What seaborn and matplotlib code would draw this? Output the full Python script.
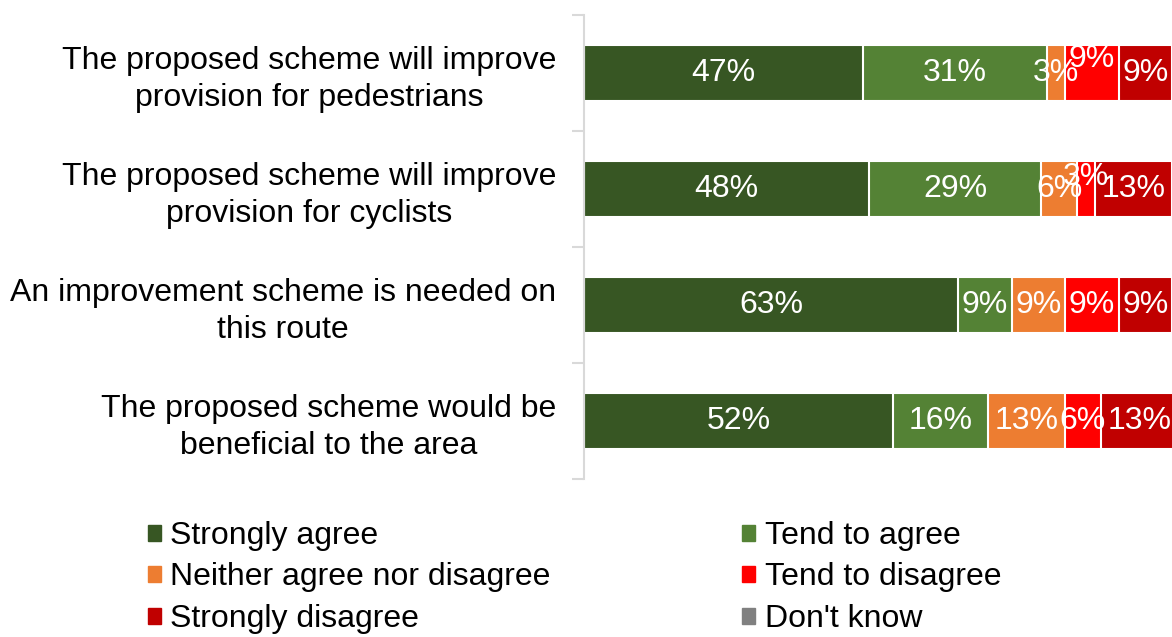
import numpy as np
import pandas as pd
import matplotlib.pyplot as plt
import seaborn as sns
from matplotlib.patches import Patch

# datos
categorias = [
    'The proposed scheme will improve\nprovision for pedestrians',
    'The proposed scheme will improve\nprovision for cyclists',
    'An improvement scheme is needed on\nthis route',
    'The proposed scheme would be\nbeneficial to the area',
]
respuestas = ['Strongly agree', 'Tend to agree', 'Neither agree nor disagree',
              'Tend to disagree', 'Strongly disagree', "Don't know"]
strongly_agree = [47, 48, 63, 52]
tend_agree = [31, 29, 9, 16]
neither = [3, 6, 9, 13]
tend_disagree = [9, 3, 9, 6]
strongly_disagree = [9, 13, 9, 13]
dont_know = [0, 0, 0, 0]

colores = ['#375623', '#548235', '#ED7D31', '#FF0000', '#C00000', '#808080']

series = [strongly_agree, tend_agree, neither, tend_disagree, strongly_disagree, dont_know]
df = pd.DataFrame(dict(zip(respuestas, series)))
df['categoria'] = categorias
acum = df[respuestas].cumsum(axis=1)

sns.set_theme(style='white')
plt.rcParams['font.family'] = ['Liberation Sans', 'DejaVu Sans']
plt.rcParams['text.color'] = 'black'
fs = 23

fig = plt.figure(figsize=(11.72, 6.37), dpi=100)
ax = fig.add_axes([584 / 1172, 1 - 479 / 637, 1 - 584 / 1172, (479 - 15) / 637])

# barras apiladas: se dibuja de la ultima a la primera
for i in range(len(respuestas) - 1, -1, -1):
    r = respuestas[i]
    sns.barplot(x=acum[r], y=df['categoria'], color=colores[i], width=0.48,
                edgecolor='white', linewidth=1.5, orient='h', ax=ax, saturation=1)

# etiquetas de porcentaje (las que se pisan suben un poco, como en el original)
desplazar = {(0, 3): -0.12, (1, 3): -0.1}
for fila in range(len(categorias)):
    for j, r in enumerate(respuestas):
        v = df[r].iloc[fila]
        if v == 0:
            continue
        centro = acum[r].iloc[fila] - v / 2
        ax.text(centro, fila + desplazar.get((fila, j), 0), f'{v}%', ha='center', va='center',
                color='white', fontsize=fs)

ax.set_xlim(0, 99)
ax.set_ylim(3.5, -0.5)
ax.set_xlabel('')
ax.set_ylabel('')
ax.set_xticks([])
ax.set_yticks(range(len(categorias)))
ax.set_yticklabels(categorias, fontsize=fs, multialignment='center', linespacing=1.27)
ax.set_yticks(np.arange(-0.5, 4, 1), minor=True)
ax.tick_params(axis='y', which='major', length=0, pad=20, colors='black')
ax.tick_params(axis='y', which='minor', length=9, width=1.5, color='#d9d9d9', left=True)
for s in ['top', 'right', 'bottom']:
    ax.spines[s].set_visible(False)
ax.spines['left'].set_color('#d9d9d9')
ax.spines['left'].set_linewidth(1.5)

# leyenda (orden por filas)
handles = [Patch(color=c, label=r) for c, r in zip(colores, respuestas)]
orden = [0, 2, 4, 1, 3, 5]
fig.legend([handles[k] for k in orden], [respuestas[k] for k in orden],
           ncol=2, loc='upper left', bbox_to_anchor=(148 / 1172, 1 - 521 / 637),
           frameon=False, fontsize=fs, handlelength=0.4, handleheight=0.4,
           handletextpad=0.3, columnspacing=6.0, labelspacing=0.36,
           borderaxespad=0, borderpad=0, labelcolor='black')

fig.savefig('out.png', dpi=100)
